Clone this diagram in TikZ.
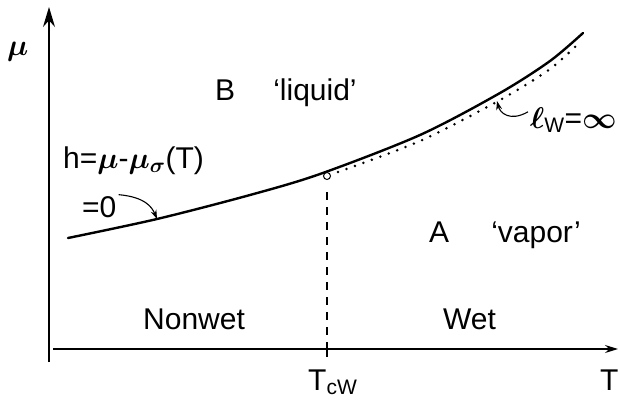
\RequirePackage{fix-cm}
\documentclass[tikz,border=0pt]{standalone}
\usepackage{bm}
\usepackage{fontspec}
\setmainfont{Liberation Sans}
\usetikzlibrary{arrows.meta}
\tikzset{
  muaxis/.style={line width=1.4pt,-{Stealth[length=20pt,width=12pt]}},
  taxis/.style={line width=1.4pt,-{Stealth[length=13pt,width=8pt]}},
  lbl/.style={font=\fontsize{30}{36}\selectfont,inner sep=0pt,anchor=base west},
  pointer/.style={line width=1.1pt,-{Stealth[length=9pt,width=6pt]}},
}
\begin{document}
\begin{tikzpicture}[x=1pt,y=-1pt]
\useasboundingbox (0,0) rectangle (620,404);
% axes
\coordinate (origin) at (49,362);
\coordinate (mutop) at (49,7);
\coordinate (tleft) at (53,349);
\coordinate (tright) at (618,349);
\draw[muaxis] (origin) -- (mutop);
\draw[taxis] (tleft) -- (tright);
% h=0 line and l_W = infinity line
\draw[line width=2.4pt,line cap=round] plot[smooth] coordinates
  {(68,238) (157,219) (250,195) (320,174) (420,135) (500,93) (550,61) (583,33)};
\draw[line width=2.8pt,line cap=round,dash pattern=on 0pt off 9pt] plot[smooth] coordinates
  {(338,172) (420,141) (500,100) (550,69) (580,42)};
% wetting transition
\coordinate (cw) at (327,176);
\coordinate (cwfoot) at (327,349);
\draw[line width=1.1pt,dash pattern=on 8pt off 7pt] (327,192) -- (cwfoot);
\draw[line width=1.1pt] (327,342) -- (327,357);
\draw[line width=1pt,fill=white] (cw) circle (3.5pt);
% labels
\node[lbl] (mu) at (7,56) {$\bm{\mu}$};
\node[lbl] (b) at (215,100) {B};
\node[lbl,anchor=base] (liquid) at (315,100) {`liquid'};
\node[lbl] (hdef) at (63,168) {h=$\bm{\mu}$-$\bm{\mu_{\sigma}}$(T)};
\node[lbl] (hzero) at (82,217) {=0};
\node[lbl] (lw) at (530,128) {$\bm{\ell}_{\mathrm{W}}$=$\bm{\infty}$};
\node[lbl] (a) at (429,242) {A};
\node[lbl,anchor=base] (vapor) at (536,242) {`vapor'};
\node[lbl] (nonwet) at (143,329) {Nonwet};
\node[lbl] (wet) at (443,329) {Wet};
\node[lbl] (tcw) at (308,390) {T$_{\mathrm{cW}}$};
\node[lbl] (t) at (600,390) {T};
% pointers
\coordinate (onh) at (157,219);
\coordinate (onlw) at (497,101);
\draw[pointer] (hzero.east) ++(2,-12) .. controls (145,197) and (152,207) .. (onh);
\draw[pointer] (lw.west) ++(-2,-8) .. controls (510,122) and (500,113) .. (onlw);
\end{tikzpicture}
\end{document}
